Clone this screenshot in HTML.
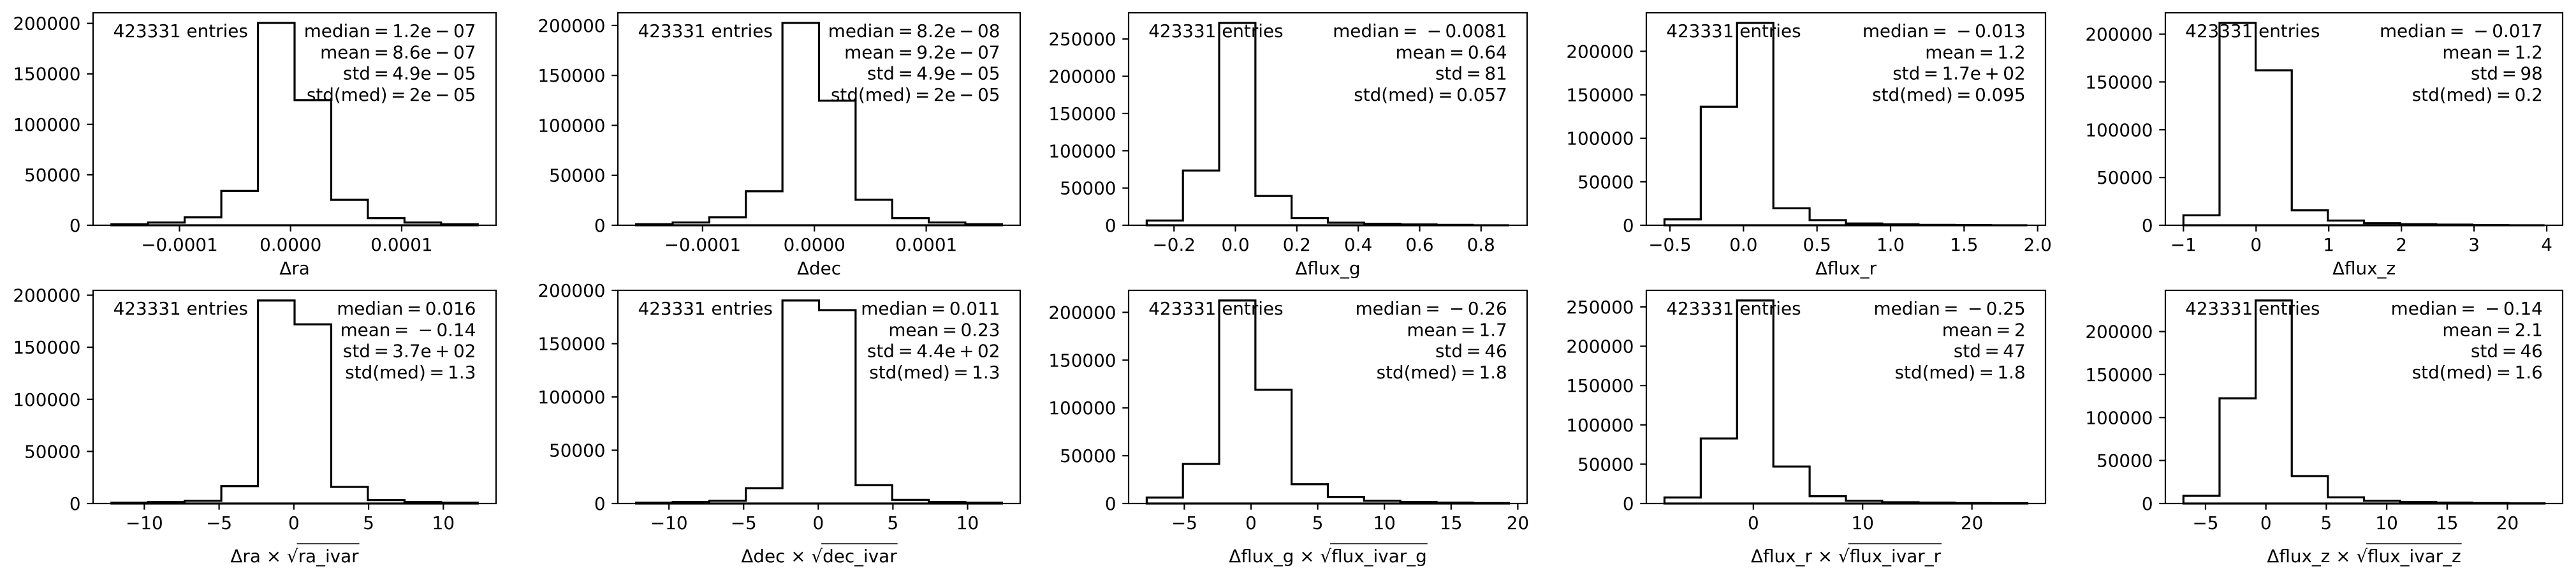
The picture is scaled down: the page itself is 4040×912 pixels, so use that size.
<!DOCTYPE html>
<html><head><meta charset="utf-8">
<style>
html,body{margin:0;padding:0;background:#fff;}
svg{display:block;}
text{font-family:"DejaVu Sans","Liberation Sans",sans-serif;font-size:27.8px;fill:#000;}
</style></head>
<body>
<svg id="fig" width="4040" height="912" viewBox="0 0 4040 912" xmlns="http://www.w3.org/2000/svg">
<rect width="4040" height="912" fill="#fff"/>
</svg>
<script>
// ---- data ----
const raCounts = [1000, 2700, 7800, 34000, 200500, 124000, 25200, 7100, 2700, 1000];
const raEdges = [-1.613e-4, 1.685e-4];
const decCounts = [1060, 2770, 7900, 34000, 202600, 124700, 25500, 7200, 2770, 1060];
const decEdges = [-1.594e-4, 1.677e-4];
const fluxGCounts = [6300, 73500, 271700, 39300, 9700, 3400, 2000, 1100, 600, 0];
const fluxGEdges = [-0.289, 0.891];
const fluxRCounts = [6800, 136300, 232700, 19500, 5900, 2000, 1000, 500, 250, 0];
const fluxREdges = [-0.537, 1.93];
const fluxZCounts = [10400, 211800, 162200, 15600, 4900, 2200, 1100, 700, 200, 0];
const fluxZEdges = [-1.0, 3.97];
const raIvarCounts = [800, 1400, 2650, 16700, 194900, 172000, 15900, 3300, 1400, 800];
const raIvarEdges = [-12.2, 12.3];
const decIvarCounts = [800, 1400, 2600, 14400, 190500, 181500, 17200, 3400, 1400, 800];
const decIvarEdges = [-12.2, 12.3];
const gIvarCounts = [6200, 41400, 212400, 119000, 20200, 6900, 2900, 1600, 900, 450];
const gIvarEdges = [-7.82, 19.34];
const rIvarCounts = [7600, 82700, 258100, 47000, 9200, 3500, 1600, 1100, 500, 300];
const rIvarEdges = [-8.13, 25.07];
const zIvarCounts = [8900, 122400, 236100, 31900, 7200, 3200, 1700, 1000, 500, 250];
const zIvarEdges = [-6.83, 23.07];

const raXTicks = [-0.0001, 0, 0.0001];
const raXTickLabels = ["\u22120.0001", "0.0000", "0.0001"];
const gXTicks = [-0.2, 0, 0.2, 0.4, 0.6, 0.8];
const gXTickLabels = ["\u22120.2", "0.0", "0.2", "0.4", "0.6", "0.8"];
const rXTicks = [-0.5, 0, 0.5, 1, 1.5, 2];
const rXTickLabels = ["\u22120.5", "0.0", "0.5", "1.0", "1.5", "2.0"];
const zXTicks = [-1, 0, 1, 2, 3, 4];
const zXTickLabels = ["\u22121", "0", "1", "2", "3", "4"];
const ivarXTicks = [-10, -5, 0, 5, 10];
const ivarXTickLabels = ["\u221210", "\u22125", "0", "5", "10"];
const gIvarXTicks = [-5, 0, 5, 10, 15, 20];
const gIvarXTickLabels = ["\u22125", "0", "5", "10", "15", "20"];
const rIvarXTicks = [0, 10, 20];
const rIvarXTickLabels = ["0", "10", "20"];
const y200Ticks = [0, 50000, 100000, 150000, 200000];
const y250Ticks = [0, 50000, 100000, 150000, 200000, 250000];

const T_ = "\u2009";
const statsRa = ["median\u2009=\u20091.2e\u2009\u2212\u200907", "mean\u2009=\u20098.6e\u2009\u2212\u200907", "std\u2009=\u20094.9e\u2009\u2212\u200905", "std(med)\u2009=\u20092e\u2009\u2212\u200905"];
const statsDec = ["median\u2009=\u20098.2e\u2009\u2212\u200908", "mean\u2009=\u20099.2e\u2009\u2212\u200907", "std\u2009=\u20094.9e\u2009\u2212\u200905", "std(med)\u2009=\u20092e\u2009\u2212\u200905"];
const statsG = ["median\u2009=\u2009 \u2212\u20090.0081", "mean\u2009=\u20090.64", "std\u2009=\u200981", "std(med)\u2009=\u20090.057"];
const statsR = ["median\u2009=\u2009 \u2212\u20090.013", "mean\u2009=\u20091.2", "std\u2009=\u20091.7e\u2009+\u200902", "std(med)\u2009=\u20090.095"];
const statsZ = ["median\u2009=\u2009 \u2212\u20090.017", "mean\u2009=\u20091.2", "std\u2009=\u200998", "std(med)\u2009=\u20090.2"];
const statsRaIvar = ["median\u2009=\u20090.016", "mean\u2009=\u2009 \u2212\u20090.14", "std\u2009=\u20093.7e\u2009+\u200902", "std(med)\u2009=\u20091.3"];
const statsDecIvar = ["median\u2009=\u20090.011", "mean\u2009=\u20090.23", "std\u2009=\u20094.4e\u2009+\u200902", "std(med)\u2009=\u20091.3"];
const statsGIvar = ["median\u2009=\u2009 \u2212\u20090.26", "mean\u2009=\u20091.7", "std\u2009=\u200946", "std(med)\u2009=\u20091.8"];
const statsRIvar = ["median\u2009=\u2009 \u2212\u20090.25", "mean\u2009=\u20092", "std\u2009=\u200947", "std(med)\u2009=\u20091.8"];
const statsZIvar = ["median\u2009=\u2009 \u2212\u20090.14", "mean\u2009=\u20092.1", "std\u2009=\u200946", "std(med)\u2009=\u20091.6"];

const panels = [
 {id:"ra", counts:raCounts, edges:raEdges, xt:raXTicks, xl:raXTickLabels, yt:y200Ticks, stats:statsRa, lab:["\u0394ra"], box:[146,20,778,353]},
 {id:"dec", counts:decCounts, edges:decEdges, xt:raXTicks, xl:raXTickLabels, yt:y200Ticks, stats:statsDec, lab:["\u0394dec"], box:[969,20,1600,353]},
 {id:"flux-g", counts:fluxGCounts, edges:fluxGEdges, xt:gXTicks, xl:gXTickLabels, yt:y250Ticks, stats:statsG, lab:["\u0394flux_g"], box:[1770,20,2395,353]},
 {id:"flux-r", counts:fluxRCounts, edges:fluxREdges, xt:rXTicks, xl:rXTickLabels, yt:y200Ticks, stats:statsR, lab:["\u0394flux_r"], box:[2582,20,3208,353]},
 {id:"flux-z", counts:fluxZCounts, edges:fluxZEdges, xt:zXTicks, xl:zXTickLabels, yt:y200Ticks, stats:statsZ, lab:["\u0394flux_z"], box:[3396,20,4019,353]},
 {id:"ra-ivar", counts:raIvarCounts, edges:raIvarEdges, xt:ivarXTicks, xl:ivarXTickLabels, yt:y200Ticks, stats:statsRaIvar, lab:["\u0394ra \u00d7 ","ra_ivar"], box:[146,455,778,789]},
 {id:"dec-ivar", counts:decIvarCounts, edges:decIvarEdges, xt:ivarXTicks, xl:ivarXTickLabels, yt:y200Ticks, stats:statsDecIvar, lab:["\u0394dec \u00d7 ","dec_ivar"], box:[969,455,1600,789]},
 {id:"flux-g-ivar", counts:gIvarCounts, edges:gIvarEdges, xt:gIvarXTicks, xl:gIvarXTickLabels, yt:y200Ticks, stats:statsGIvar, lab:["\u0394flux_g \u00d7 ","flux_ivar_g"], box:[1770,455,2395,789]},
 {id:"flux-r-ivar", counts:rIvarCounts, edges:rIvarEdges, xt:rIvarXTicks, xl:rIvarXTickLabels, yt:y250Ticks, stats:statsRIvar, lab:["\u0394flux_r \u00d7 ","flux_ivar_r"], box:[2582,455,3208,789]},
 {id:"flux-z-ivar", counts:zIvarCounts, edges:zIvarEdges, xt:gIvarXTicks, xl:gIvarXTickLabels, yt:y200Ticks, stats:statsZIvar, lab:["\u0394flux_z \u00d7 ","flux_ivar_z"], box:[3396,455,4019,789]}
];

const NS = "http://www.w3.org/2000/svg";
const svg = document.getElementById("fig");
function mk(tag, attrs, parent){
  const e = document.createElementNS(NS, tag);
  for (const k in attrs) e.setAttribute(k, attrs[k]);
  (parent||svg).appendChild(e);
  return e;
}

panels.forEach(p => {
  const [L,T,R,B] = p.box;
  const g = mk("g", {});
  
  
  const e0 = p.edges[0], e1 = p.edges[1], n = p.counts.length;
  const span = e1 - e0;
  const xmin = e0 - 0.05*span, xmax = e1 + 0.05*span;
  const ymax = 1.05*Math.max(...p.counts);
  const xs = v => L + (v - xmin)/(xmax - xmin)*(R - L);
  const ys = v => B - v/ymax*(B - T);

  let d = "M" + xs(e0) + "," + ys(0);
  for (let i = 0; i < n; i++) {
    const a = e0 + span*i/n, b = e0 + span*(i+1)/n;
    d += " L" + xs(a) + "," + ys(p.counts[i]) + " L" + xs(b) + "," + ys(p.counts[i]);
  }
  d += " L" + xs(e1) + "," + ys(0) + " Z";
  const h = mk("path", {d:d, fill:"none", stroke:"#000", "stroke-width":3.2, "stroke-linejoin":"miter"}, g);
  
  

  const sp = mk("rect", {x:L, y:T, width:R-L, height:B-T, fill:"none", stroke:"#000", "stroke-width":2.2}, g);
  
  

  p.yt.forEach(v => {
    const y = ys(v);
    mk("line", {x1:L-9.7, x2:L, y1:y, y2:y, stroke:"#000", "stroke-width":2.2}, g);
    const t = mk("text", {x:L-19.5, y:y+10, "text-anchor":"end"}, g);
    t.textContent = String(v);
    
    
  });
  p.xt.forEach((v,i) => {
    const x = xs(v);
    mk("line", {x1:x, x2:x, y1:B, y2:B+9.7, stroke:"#000", "stroke-width":2.2}, g);
    const t = mk("text", {x:x, y:B+40, "text-anchor":"middle"}, g);
    t.textContent = p.xl[i];
    
    
  });

  const en = mk("text", {x:L+0.05*(R-L), y:T+0.05*(B-T)+21.5}, g);
  en.textContent = "423331 entries";
  
  

  p.stats.forEach((s,i) => {
    const t = mk("text", {x:R-0.05*(R-L), y:T+0.05*(B-T)+21.5+i*33.2, "text-anchor":"end"}, g);
    t.textContent = s;
    
    
  });

  const cx = (L+R)/2;
  if (p.lab.length === 1) {
    const t = mk("text", {x:cx, y:B+77, "text-anchor":"middle"}, g);
    t.textContent = p.lab[0];
    
    
  } else {
    const by = B + 92;
    const t = mk("text", {x:0, y:by}, g);
    
    
    const s1 = mk("tspan", {}, t); s1.textContent = p.lab[0];
    const s2 = mk("tspan", {}, t); s2.textContent = "\u221a";
    const s3 = mk("tspan", {}, t); s3.textContent = p.lab[1];
    const w1 = s1.getComputedTextLength(), w2 = s2.getComputedTextLength(), w3 = s3.getComputedTextLength();
    const total = w1 + w2 + w3;
    const x0 = cx - total/2;
    t.setAttribute("x", x0);
    mk("line", {x1:x0+w1+w2-2, x2:x0+total+1, y1:by-29, y2:by-29, stroke:"#000", "stroke-width":1.6}, g);
  }
});
</script>
</body></html>
